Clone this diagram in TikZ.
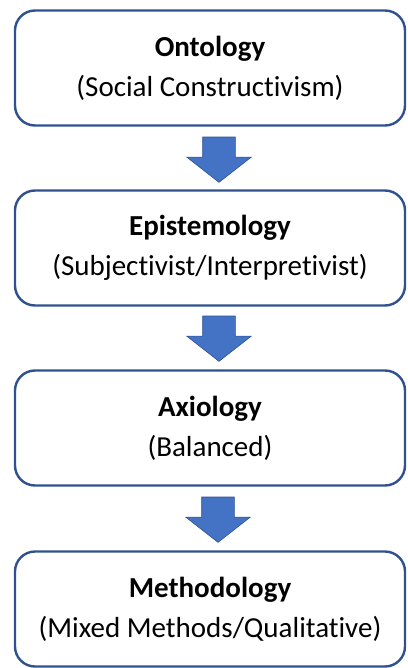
\documentclass[tikz,border=0pt]{standalone}
\usepackage{fontspec}
\setmainfont{Carlito}[Ligatures={NoCommon,NoContextual}]
\usepackage{tikz}
\usetikzlibrary{positioning,shapes.arrows}
\definecolor{boxline}{HTML}{2F528F}
\definecolor{arrowfill}{HTML}{4472C4}
\tikzset{
  layer/.style   = {draw=boxline,line width=2.4pt,rounded corners=20pt,
                    fill=white,minimum width=390pt,minimum height=115pt,
                    align=center,font=\fontsize{29}{40}\selectfont},
  downarr/.style = {single arrow,draw=boxline,fill=arrowfill,line width=0.6pt,
                    shape border rotate=270,inner sep=16pt,
                    minimum height=45pt,single arrow head extend=16pt,
                    single arrow head indent=0pt,single arrow tip angle=104},
}
\begin{document}
\begin{tikzpicture}[x=1pt,y=-1pt]
  \useasboundingbox (0,0) rectangle (407,668);

  % Research philosophy layers (top to bottom)
  \node[layer] (onto) at (210,68)  {\textbf{Ontology}\\(Social Constructivism)};
  \node[layer] (epis) at (210,248) {\textbf{Epistemology}\\(Subjectivist/Interpretivist)};
  \node[layer] (axio) at (210,428) {\textbf{Axiology}\\(Balanced)};
  \node[layer] (meth) at (210,609) {\textbf{Methodology}\\(Mixed Methods/Qualitative)};

  % Block arrows between layers
  \node[downarr,below=10pt of onto.south,xshift=9pt] (a1) {};
  \node[downarr,below=9pt of epis.south,xshift=9pt]  (a2) {};
  \node[downarr,below=10pt of axio.south,xshift=8pt] (a3) {};
\end{tikzpicture}
\end{document}
